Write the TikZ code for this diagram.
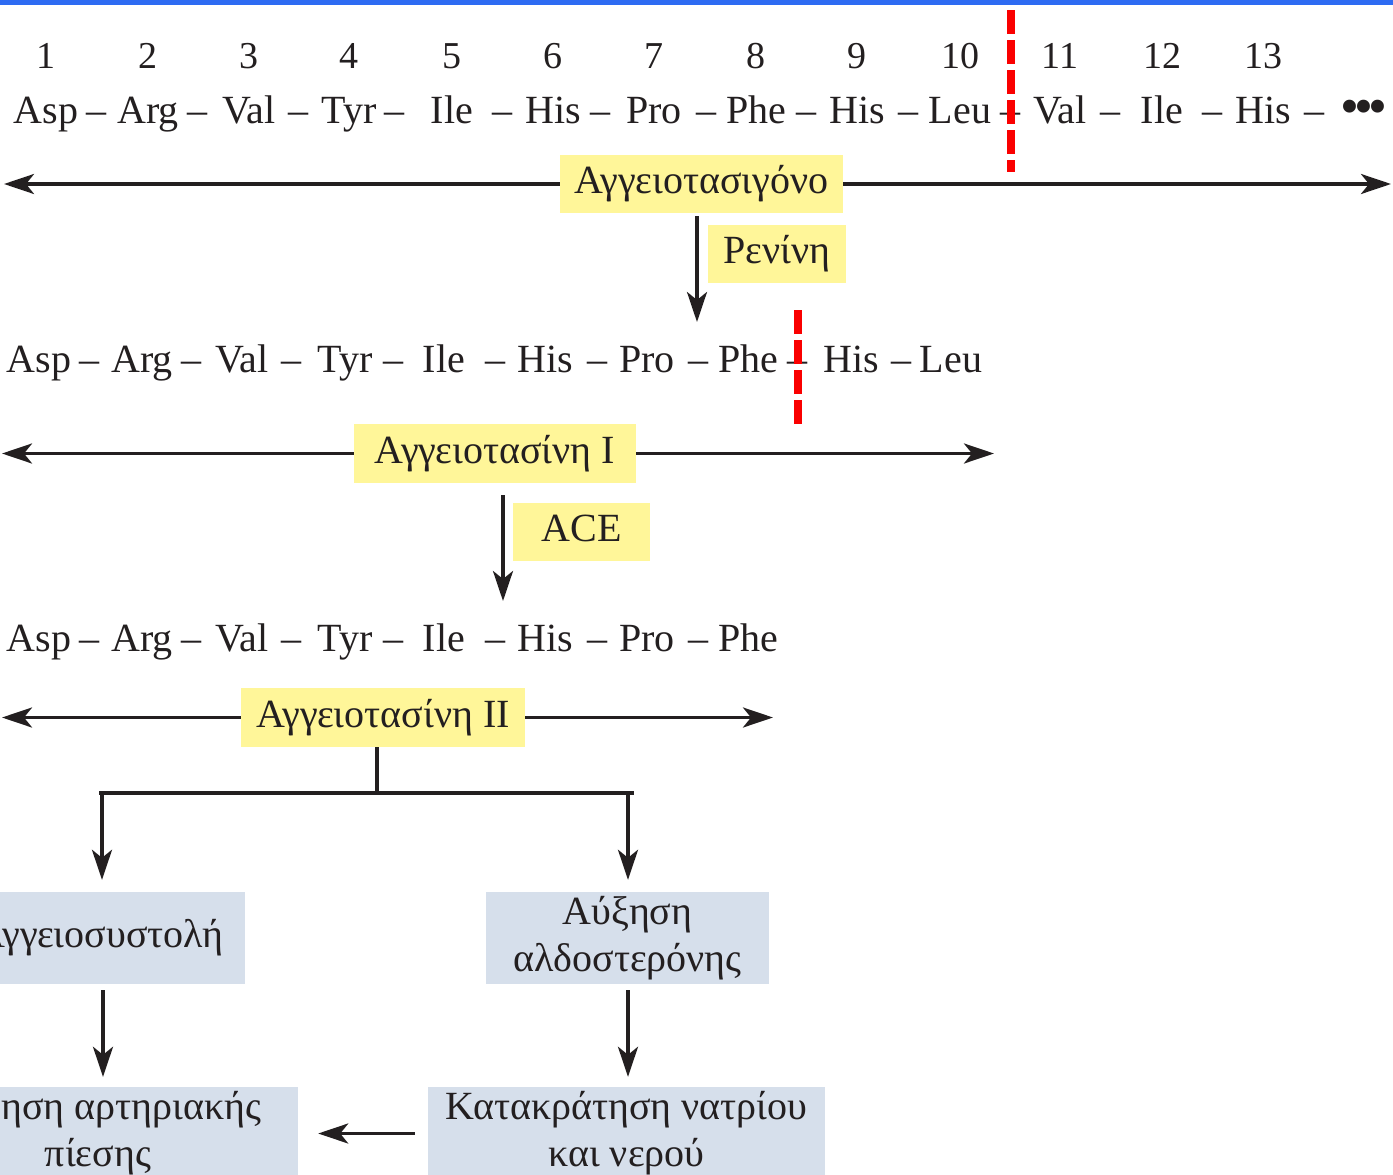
\documentclass[tikz,border=0pt]{standalone}
\usepackage{fontspec}
\setmainfont{Liberation Serif}
\usetikzlibrary{arrows.meta}
\definecolor{ink}{RGB}{35,31,32}
\definecolor{yelbox}{RGB}{255,246,153}
\definecolor{bluebox}{RGB}{214,223,235}
\definecolor{topblue}{RGB}{46,107,242}
\definecolor{cutred}{RGB}{250,0,0}
\newcommand{\rowfont}{\fontsize{40}{47}\selectfont}
\newcommand{\numfont}{\fontsize{38}{44}\selectfont}
\begin{document}
\begin{tikzpicture}[x=1pt,y=-1pt,
  res/.style={anchor=base,inner sep=0pt,font=\rowfont,text=ink},
  num/.style={anchor=base,inner sep=0pt,font=\numfont,text=ink},
  ybox/.style={fill=yelbox,inner sep=0pt,font=\rowfont,text=ink,text height=28pt,text depth=9pt},
  bbox/.style={fill=bluebox,inner sep=0pt,font=\rowfont,text=ink,align=center},
  conn/.style={draw=ink,line width=3.5pt},
  arr/.style={draw=ink,line width=3.5pt,-{Stealth[length=30pt,width=20pt,inset=8pt]}},
  redcut/.style={draw=cutred,line width=8pt,dash pattern=on 24pt off 6pt}]
\useasboundingbox (0,0) rectangle (1393,1175);
\clip (0,0) rectangle (1393,1175);
\fill[white] (0,0) rectangle (1393,1175);
\fill[topblue] (0,0) rectangle (1393,5);

% ---------- row 1: numbers ----------
\foreach \n/\x in {1/46,2/148,3/249,4/349,5/452,6/553,7/654,8/756,9/857,10/960,11/1060,12/1162,13/1263}
  \node[num] (n\n) at (\x,68) {\n};
% ---------- row 1: residues ----------
\foreach \i/\x/\t in {1/46/Asp,2/148/Arg,3/249/Val,4/349/Tyr,5/452/Ile,6/553/His,7/654/Pro,8/756/Phe,9/857/His,10/960/Leu,11/1060/Val,12/1162/Ile,13/1263/His}
  \node[res] (r1\i) at (\x,123) {\t};
\foreach \i/\x in {1/96,2/197,3/298,4/394,5/502,6/600,7/706,8/806,9/908,10/1010,11/1110,12/1212,13/1314}
  \node[res] (d1\i) at (\x,123) {–};
\node[inner sep=0pt,text=ink,font=\fontsize{54}{60}\selectfont] (dots) at (1364,112) {•\kern-5pt•\kern-5pt•};

% red cut 1
\coordinate (c1a) at (1011,10);
\coordinate (c1b) at (1011,172);
\draw[redcut] (c1a) -- (c1b);

% angiotensinogen
\node[ybox,minimum width=283pt,minimum height=58pt] (ang) at (701.5,184) {Αγγειοτασιγόνο};
\coordinate (l1) at (4,184);
\coordinate (e1) at (1391,184);
\draw[arr] (ang.west) -- (l1);
\draw[arr] (ang.east) -- (e1);

% renin
\node[ybox,minimum width=138pt,minimum height=58pt] (ren) at (777,254) {Ρενίνη};
\coordinate (t1) at (697,322);
\draw[arr,shorten <=3pt] (ang.south -| t1) -- (t1);

% ---------- row 2 ----------
\foreach \i/\x/\t in {1/39/Asp,2/142/Arg,3/242/Val,4/345/Tyr,5/444/Ile,6/545/His,7/647/Pro,8/748/Phe,9/851/His,10/951/Leu}
  \node[res] (r2\i) at (\x,372) {\t};
\foreach \i/\x in {1/89,2/191,3/291,4/393,5/495,6/597,7/698,8/797,9/901}
  \node[res] (d2\i) at (\x,372) {–};
\coordinate (c2a) at (798,310);
\coordinate (c2b) at (798,424);
\draw[redcut] (c2a) -- (c2b);

% angiotensin I
\node[ybox,minimum width=282pt,minimum height=59pt] (a1) at (495,453.5) {Αγγειοτασίνη I};
\coordinate (l2) at (2,453.5);
\coordinate (e2) at (994,453.5);
\draw[arr] (a1.west) -- (l2);
\draw[arr] (a1.east) -- (e2);

% ACE
\node[ybox,minimum width=137pt,minimum height=58pt] (ace) at (581.5,532) {ACE};
\coordinate (t2) at (503,601);
\draw[arr,shorten <=12pt] (a1.south -| t2) -- (t2);

% ---------- row 3 ----------
\foreach \i/\x/\t in {1/39/Asp,2/142/Arg,3/242/Val,4/345/Tyr,5/444/Ile,6/545/His,7/647/Pro,8/748/Phe}
  \node[res] (r3\i) at (\x,651) {\t};
\foreach \i/\x in {1/89,2/191,3/291,4/393,5/495,6/597,7/698}
  \node[res] (d3\i) at (\x,651) {–};

% angiotensin II
\node[ybox,minimum width=284pt,minimum height=59pt] (a2) at (383,717.5) {Αγγειοτασίνη II};
\coordinate (l3) at (2,717);
\coordinate (e3) at (773,717);
\draw[arr] (a2.west) -- (l3 |- a2.west);
\draw[arr] (a2.east) -- (e3 |- a2.east);

% branching
\coordinate (j) at (377,793);
\coordinate (jl) at (99,793);
\coordinate (jr) at (634,793);
\coordinate (bl) at (102,793);
\coordinate (br) at (628,793);
\draw[conn] (a2.south -| j) -- (j);
\draw[conn] (jl) -- (jr);

% blue boxes
\node[bbox,minimum width=290pt,minimum height=92pt] (vc) at (100,938) {Αγγειοσυστολή};
\node[bbox,minimum width=283pt,minimum height=92pt] (ald) at (627.5,938) {Αύξηση\\αλδοστερόνης};
\node[bbox,minimum width=400pt,minimum height=93pt] (bp) at (98,1133.5) {Αύξηση αρτηριακής\\πίεσης};
\node[bbox,minimum width=397pt,minimum height=93pt] (na) at (626.5,1133.5) {Κατακράτηση νατρίου\\και νερού};

\draw[arr,shorten >=12pt] (bl) -- (vc.north -| bl);
\draw[arr,shorten >=12pt] (br) -- (ald.north -| br);

\coordinate (v1) at (103,990);
\coordinate (v2) at (628,990);
\draw[arr,shorten <=6pt,shorten >=10pt] (vc.south -| v1) -- (bp.north -| v1);
\draw[arr,shorten <=6pt,shorten >=10pt] (ald.south -| v2) -- (na.north -| v2);
\draw[arr,shorten <=13pt,shorten >=20pt] (na.west) -- (bp.east);
\end{tikzpicture}
\end{document}
